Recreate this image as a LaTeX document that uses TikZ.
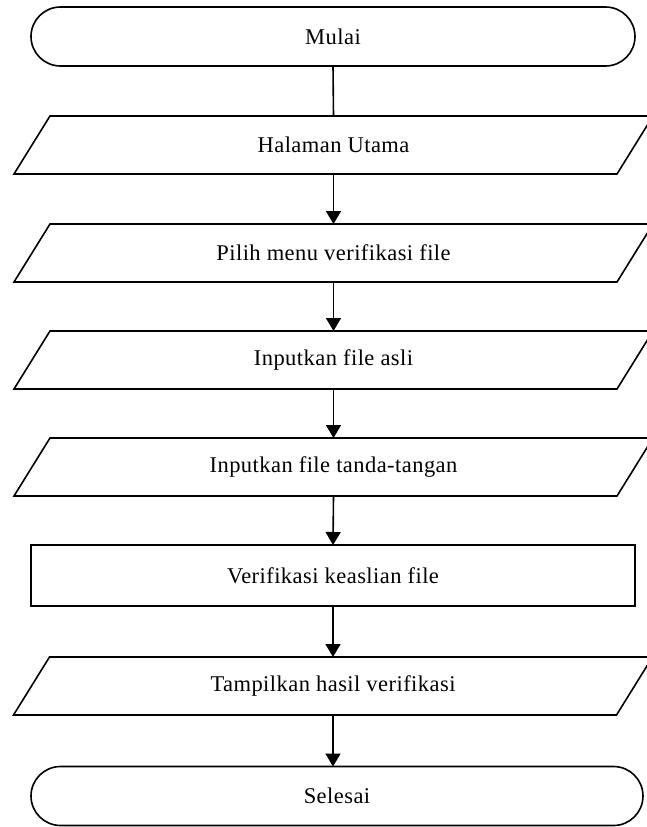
\documentclass[tikz,border=0pt]{standalone}
\usepackage{fontspec}
\setmainfont{Liberation Serif}[LetterSpace=2.0]
\usetikzlibrary{shapes.misc,arrows.meta}

\begin{document}
\begin{tikzpicture}[x=1pt,y=-1pt,
  every node/.style={outer sep=0pt,inner sep=0pt,font=\fontsize{22.5}{27}\selectfont},
  term/.style={rounded rectangle,draw,line width=1.6pt,minimum height=59},
  proc/.style={rectangle,draw,line width=1.6pt,minimum width=604,minimum height=61},
  io/.style={rectangle,minimum width=603,minimum height=58},
  arr/.style={line width=1.6pt,-{Triangle[width=15pt,length=13pt]}}]
  \clip (0,0) rectangle (647,827);
  \pgfmathsetmacro\sl{18}
  \node[term,minimum width=604] (mulai) at (333,36.5) {Mulai};
  \node[io] (hal) at (333.5,145) {Halaman Utama};
  \node[io] (pil) at (333.5,253) {Pilih menu verifikasi file};
  \node[io] (asli) at (333.5,360) {Inputkan file asli};
  \node[io] (ttd) at (333.5,467) {Inputkan file tanda-tangan};
  \node[proc] (ver) at (333,575.5) {Verifikasi keaslian file};
  \node[io] (hasil) at (333,686) {Tampilkan hasil verifikasi};
  \node[term,minimum width=612] (sel) at (337,796) {Selesai};
  % parallelogram outlines
  \foreach \n in {hal,pil,asli,ttd,hasil} {
    \draw[line width=1.6pt] ([xshift=-\sl]\n.south west) -- ([xshift=\sl]\n.north west)
      -- ([xshift=\sl]\n.north east) -- ([xshift=-\sl]\n.south east) -- cycle;
  }
  \draw[line width=1.6pt] (mulai.south) -- (hal.north);
  \draw[arr] (hal.south) -- (pil.north);
  \draw[arr] (pil.south) -- (asli.north);
  \draw[arr] (asli.south) -- (ttd.north);
  \draw[arr] (ttd.south) -- (ver.north);
  \draw[arr] (ver.south) -- (hasil.north);
  \draw[arr] (hasil.south) -- (sel.north-|hasil.south);
\end{tikzpicture}
\end{document}
